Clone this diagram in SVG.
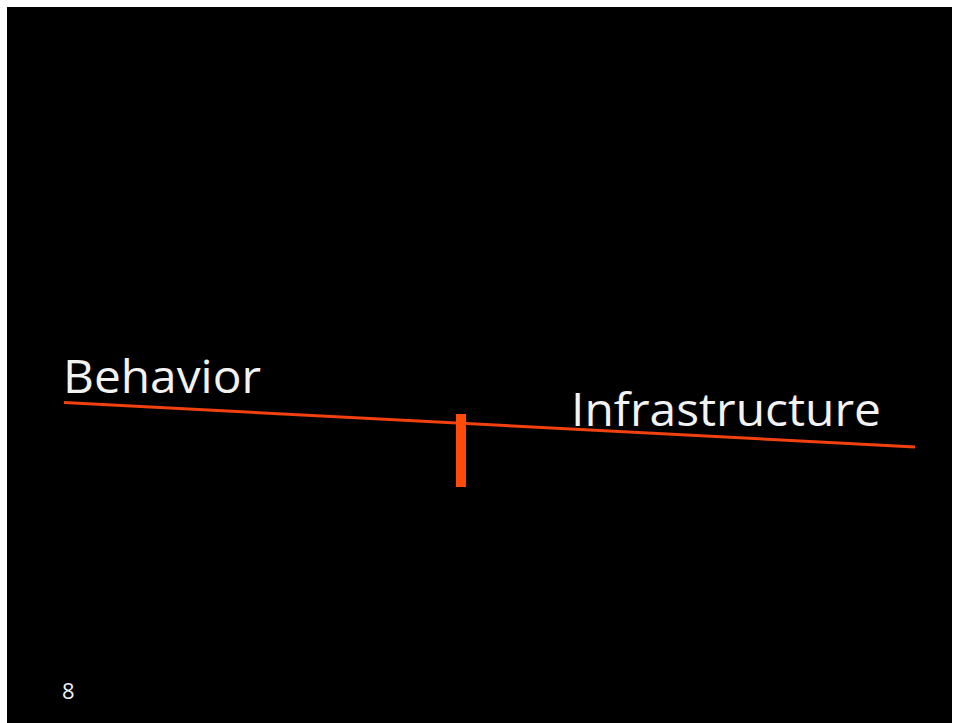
<svg xmlns="http://www.w3.org/2000/svg" width="959" height="723" viewBox="0 0 959 723">
<style>
.lbl{font-family:"Open Sans","Noto Sans","Liberation Sans",sans-serif;fill:#f2f2f2;}
.bar{stroke:#f2400f;stroke-linecap:butt;}
</style>
<rect x="0" y="0" width="959" height="723" fill="#ffffff"/>
<rect x="7" y="7" width="945" height="716" fill="#000000"/>
<g id="connectors">
<line class="bar" x1="64" y1="402.5" x2="915" y2="447" stroke-width="3"/>
</g>
<g id="fulcrum">
<rect x="456" y="414" width="10" height="73" fill="#ff4a0a"/>
</g>
<g id="behavior">
<text class="lbl" x="63" y="393" font-size="46" textLength="198" lengthAdjust="spacingAndGlyphs">Behavior</text>
</g>
<g id="infrastructure">
<text class="lbl" x="571" y="426" font-size="46" textLength="310" lengthAdjust="spacingAndGlyphs">Infrastructure</text>
</g>
<g id="page">
<text class="lbl" x="62" y="699" font-size="22">8</text>
</g>
</svg>
